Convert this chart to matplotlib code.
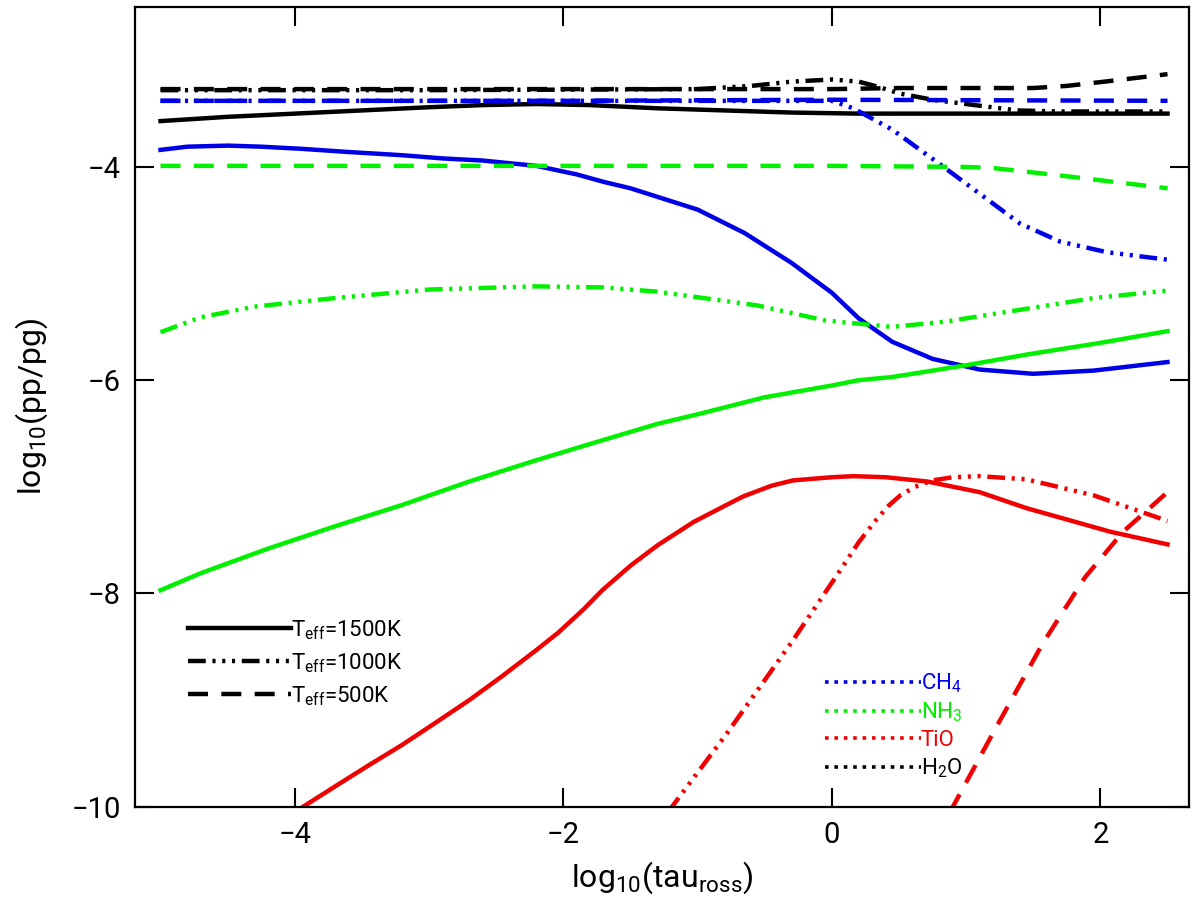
import matplotlib
matplotlib.use('Agg')
import matplotlib.pyplot as plt
from matplotlib.lines import Line2D

plt.rcParams['font.family'] = ['Roboto', 'DejaVu Sans']
plt.rcParams['mathtext.fontset'] = 'custom'
plt.rcParams['mathtext.rm'] = 'Roboto'
plt.rcParams['mathtext.it'] = 'Roboto:italic'

# ---- data: log10(tau_ross) vs log10(pp/pg) ----
# H2O
h2o_1500_x = [-5, -4.5, -4, -3.5, -3, -2.6, -2.2, -1.8, -1.3, -0.8, -0.3, 0.2, 0.8, 1.5, 2.0, 2.5]
h2o_1500_y = [-3.57, -3.53, -3.50, -3.47, -3.44, -3.42, -3.41, -3.42, -3.45, -3.47, -3.49, -3.50, -3.50, -3.50, -3.50, -3.50]
h2o_1000_x = [-5, -3, -1, -0.6, -0.3, 0, 0.2, 0.35, 0.5, 0.75, 1.0, 1.38, 1.7, 2.5]
h2o_1000_y = [-3.28, -3.28, -3.27, -3.24, -3.20, -3.18, -3.20, -3.25, -3.31, -3.37, -3.41, -3.47, -3.48, -3.48]
h2o_500_x = [-5, -3, -1, 0, 0.5, 1.0, 1.5, 1.75, 2.1, 2.5]
h2o_500_y = [-3.27, -3.27, -3.27, -3.27, -3.26, -3.26, -3.26, -3.24, -3.19, -3.13]

# CH4
ch4_1500_x = [-5, -4.8, -4.5, -4.25, -3.95, -3.6, -3.2, -2.9, -2.6, -2.2, -1.9, -1.7, -1.5, -1.3, -1.0,
              -0.65, -0.3, 0, 0.2, 0.45, 0.75, 1.1, 1.5, 1.95, 2.5]
ch4_1500_y = [-3.84, -3.81, -3.80, -3.81, -3.83, -3.86, -3.89, -3.92, -3.94, -3.99, -4.07, -4.14, -4.20, -4.28, -4.40,
              -4.62, -4.90, -5.18, -5.42, -5.64, -5.80, -5.90, -5.94, -5.91, -5.83]
ch4_1000_x = [-5, -3, -1, 0, 0.16, 0.45, 0.8, 1.1, 1.4, 1.7, 2.05, 2.5]
ch4_1000_y = [-3.38, -3.38, -3.38, -3.38, -3.45, -3.65, -3.97, -4.25, -4.53, -4.70, -4.80, -4.87]
ch4_500_x = [-5, -2, 0, 2.5]
ch4_500_y = [-3.38, -3.38, -3.37, -3.38]

# NH3
nh3_1500_x = [-5, -4.7, -4.2, -3.7, -3.2, -2.7, -2.2, -1.7, -1.3, -1.0, -0.5, 0, 0.2, 0.45, 0.7, 1.0, 1.45, 2.0, 2.5]
nh3_1500_y = [-7.97, -7.81, -7.58, -7.37, -7.17, -6.95, -6.75, -6.56, -6.41, -6.32, -6.16, -6.05, -6.00, -5.97, -5.92,
              -5.86, -5.76, -5.65, -5.54]
nh3_1000_x = [-5, -4.7, -4.5, -4.3, -3.7, -3.0, -2.2, -1.7, -1.3, -0.55, -0.05, 0.45, 0.85, 1.45, 1.95, 2.5]
nh3_1000_y = [-5.55, -5.41, -5.36, -5.31, -5.23, -5.15, -5.12, -5.13, -5.17, -5.30, -5.44, -5.50, -5.45, -5.33, -5.23, -5.16]
nh3_500_x = [-5, -2, 0, 1.0, 1.2, 1.7, 2.1, 2.5]
nh3_500_y = [-3.99, -3.99, -3.99, -4.00, -4.01, -4.08, -4.14, -4.20]

# TiO
tio_1500_x = [-4.0, -3.7, -3.46, -3.2, -2.96, -2.7, -2.46, -2.2, -2.04, -1.85, -1.71, -1.5, -1.30, -1.03, -0.8,
              -0.66, -0.45, -0.29, 0, 0.16, 0.4, 0.71, 1.1, 1.45, 2.07, 2.5]
tio_1500_y = [-10.05, -9.81, -9.62, -9.42, -9.22, -9.00, -8.78, -8.53, -8.37, -8.15, -7.97, -7.74, -7.55, -7.33, -7.18,
              -7.09, -6.99, -6.94, -6.91, -6.90, -6.91, -6.95, -7.05, -7.20, -7.42, -7.54]
tio_1000_x = [-1.22, -0.78, -0.29, 0.08, 0.2, 0.33, 0.42, 0.51, 0.62, 0.75, 0.9, 1.10, 1.45, 1.95, 2.5]
tio_1000_y = [-10.05, -9.31, -8.44, -7.75, -7.52, -7.31, -7.18, -7.08, -7.00, -6.94, -6.91, -6.90, -6.93, -7.08, -7.32]
tio_500_x = [0.88, 1.20, 1.57, 1.885, 2.17, 2.5]
tio_500_y = [-10.05, -9.31, -8.47, -7.85, -7.42, -7.05]

teff_labels = ['1500K', '1000K', '500K']
species = ['CH$_4$', 'NH$_3$', 'TiO', 'H$_2$O']

# ---- styles ----
BLUE = '#0000e6'
GREEN = '#00f000'
RED = '#f00000'
BLACK = '#000000'
LW = 3.2
SOLID = '-'
DDD = (0, (4, 1.5, 0.7, 1.5, 0.7, 1.5, 0.7, 1.5))
DASH = (0, (4.5, 3))

fig = plt.figure(figsize=(12, 9.09), dpi=100)
ax = fig.add_axes([135 / 1200, 1 - 806.7 / 909, (1189 - 135) / 1200, (806.7 - 7) / 909])

curves = [
    (h2o_500_x, h2o_500_y, BLACK, DASH),
    (h2o_1000_x, h2o_1000_y, BLACK, DDD),
    (h2o_1500_x, h2o_1500_y, BLACK, SOLID),
    (ch4_500_x, ch4_500_y, BLUE, DASH),
    (ch4_1000_x, ch4_1000_y, BLUE, DDD),
    (ch4_1500_x, ch4_1500_y, BLUE, SOLID),
    (nh3_500_x, nh3_500_y, GREEN, DASH),
    (nh3_1000_x, nh3_1000_y, GREEN, DDD),
    (nh3_1500_x, nh3_1500_y, GREEN, SOLID),
    (tio_500_x, tio_500_y, RED, DASH),
    (tio_1000_x, tio_1000_y, RED, DDD),
    (tio_1500_x, tio_1500_y, RED, SOLID),
]
for x, y, c, ls in curves:
    ax.plot(x, y, color=c, linestyle=ls, linewidth=LW, solid_joinstyle='round')

ax.set_xlim(-5.19, 2.66)
ax.set_ylim(-10, -2.5)
ax.set_xticks([-4, -2, 0, 2])
ax.set_yticks([-4, -6, -8, -10])
ax.set_xticklabels(['\u22124', '\u22122', '0', '2'])
ax.set_yticklabels(['\u22124', '\u22126', '\u22128', '\u221210'])
ax.tick_params(direction='in', length=14, width=1.5, top=True, right=True,
               labelsize=21, pad=10)
for sp in ax.spines.values():
    sp.set_linewidth(1.6)

ax.set_xlabel(r'log$_{10}$(tau$_{\mathrm{ross}}$)', fontsize=23, labelpad=8)
ax.set_ylabel(r'log$_{10}$(pp/pg)', fontsize=23, labelpad=16)

# Teff legend
h1 = [Line2D([], [], color=BLACK, linestyle=ls, linewidth=LW) for ls in (SOLID, DDD, DASH)]
leg1 = ax.legend(h1, ['T$_{\\mathrm{eff}}$=' + t for t in teff_labels],
                 loc='upper left', bbox_to_anchor=(0.0423, 0.247), frameon=False,
                 fontsize=16, handlelength=4.6, handletextpad=0.0, labelspacing=0.42,
                 borderaxespad=0)
ax.add_artist(leg1)

# species legend
h2 = [Line2D([], [], color=c, linestyle=(0, (1, 1.6)), linewidth=2.6) for c in (BLUE, GREEN, RED, BLACK)]
leg2 = ax.legend(h2, species, loc='upper left', bbox_to_anchor=(0.6465, 0.18), frameon=False,
                 fontsize=16, handlelength=4.3, handletextpad=0.0, labelspacing=0.25,
                 labelcolor='linecolor', borderaxespad=0)

fig.savefig('out.png', dpi=100)
